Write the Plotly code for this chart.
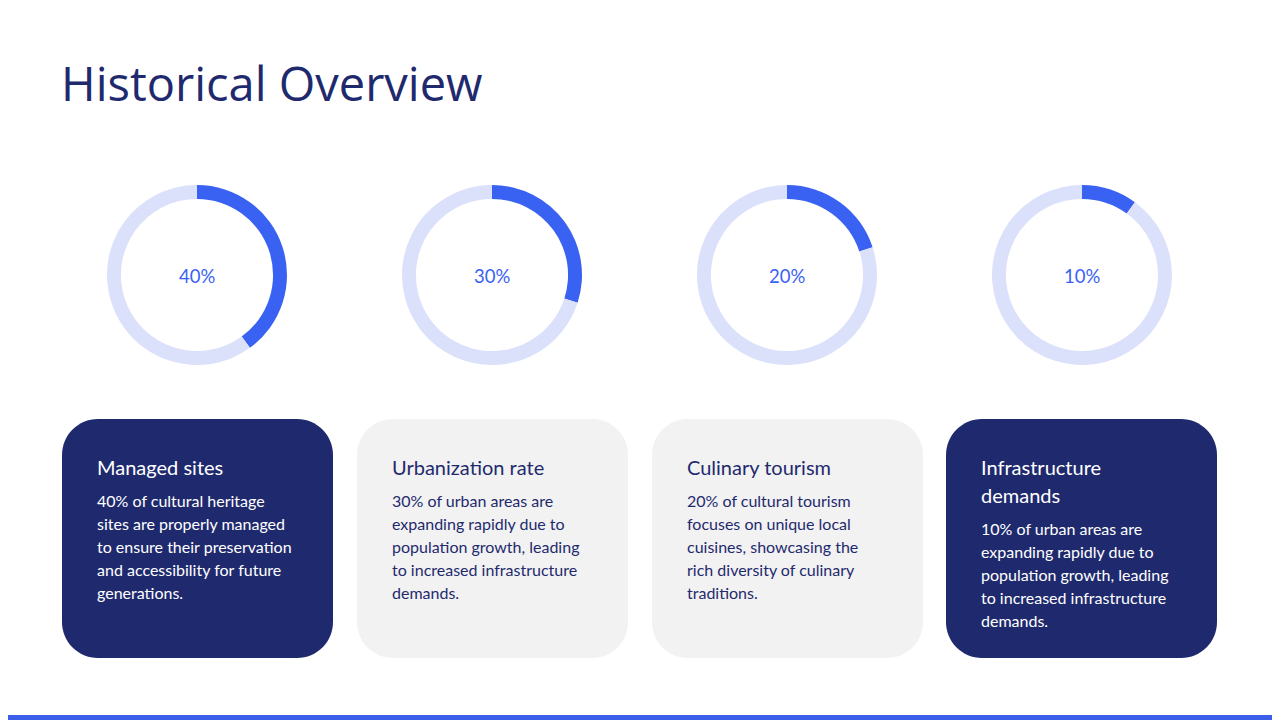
import plotly.graph_objects as go

# ---- data ----
percent_values = [40, 30, 20, 10]
percent_labels = ["40%", "30%", "20%", "10%"]
card_titles = [
    ["Managed sites"],
    ["Urbanization rate"],
    ["Culinary tourism"],
    ["Infrastructure", "demands"],
]
card_bodies = [
    ["40% of cultural heritage", "sites are properly managed", "to ensure their preservation",
     "and accessibility for future", "generations."],
    ["30% of urban areas are", "expanding rapidly due to", "population growth, leading",
     "to increased infrastructure", "demands."],
    ["20% of cultural tourism", "focuses on unique local", "cuisines, showcasing the",
     "rich diversity of culinary", "traditions."],
    ["10% of urban areas are", "expanding rapidly due to", "population growth, leading",
     "to increased infrastructure", "demands."],
]
card_dark = [True, False, False, True]
title_text = "Historical Overview"

# ---- style ----
W, H = 1280, 720
OFF = 8  # page body margin offset (screen coords = plot coords + OFF)
NAVY = "#1F2A6E"
BLUE = "#3A62F2"
TRACK = "#DCE1FB"
LIGHT_CARD = "#F2F2F2"
BODY_FONT = "Lato, 'Open Sans', sans-serif"
TITLE_FONT = "'Open Sans', 'DejaVu Sans', sans-serif"

centers_x = [197, 492, 787, 1082]
donut_cy = 275
R = 90
card_left = [62, 357, 652, 946]
card_w = 271
card_top, card_bot = 419, 658
corner = 36

fig = go.Figure()

for i, v in enumerate(percent_values):
    cx = centers_x[i] - OFF
    cy = donut_cy - OFF
    fig.add_trace(go.Pie(
        values=[v, 100 - v],
        marker=dict(colors=[BLUE, TRACK], line=dict(width=0)),
        hole=0.845,
        sort=False,
        direction="clockwise",
        rotation=0,
        textinfo="none",
        hoverinfo="skip",
        showlegend=False,
        domain=dict(x=[(cx - R) / W, (cx + R) / W],
                    y=[1 - (cy + R) / H, 1 - (cy - R) / H]),
    ))
    fig.add_annotation(x=centers_x[i], y=donut_cy + 1, text=percent_labels[i], showarrow=False,
                       xref="x", yref="y", font=dict(family=BODY_FONT, size=18.5, color=BLUE))


def rounded_rect(x0, y0, x1, y1, r):
    k = r * (1 - 0.5523)
    return (f"M {x0+r},{y0} L {x1-r},{y0} C {x1-k},{y0} {x1},{y0+k} {x1},{y0+r} "
            f"L {x1},{y1-r} C {x1},{y1-k} {x1-k},{y1} {x1-r},{y1} L {x0+r},{y1} "
            f"C {x0+k},{y1} {x0},{y1-k} {x0},{y1-r} L {x0},{y0+r} "
            f"C {x0},{y0+k} {x0+k},{y0} {x0+r},{y0} Z")


for i in range(4):
    x0 = card_left[i]
    x1 = x0 + card_w
    dark = card_dark[i]
    fig.add_shape(type="path", path=rounded_rect(x0, card_top, x1, card_bot, corner),
                  xref="x", yref="y", fillcolor=NAVY if dark else LIGHT_CARD,
                  line=dict(width=0), layer="below")
    tcol = "white" if dark else NAVY
    tx = x0 + 33
    y = 467
    for t in card_titles[i]:
        fig.add_annotation(x=tx, y=y, text=t, showarrow=False, xanchor="left", yanchor="middle",
                           xref="x", yref="y", font=dict(family=BODY_FONT, size=20, color=tcol))
        y += 28
    y += 5
    for line in card_bodies[i]:
        fig.add_annotation(x=tx, y=y, text=line, showarrow=False, xanchor="left", yanchor="middle",
                           xref="x", yref="y", font=dict(family=BODY_FONT, size=16, color=tcol))
        y += 23

# title
fig.add_annotation(x=59, y=83, text=title_text, showarrow=False, xanchor="left", yanchor="middle",
                   xref="x", yref="y", font=dict(family=TITLE_FONT, size=47, color=NAVY))

# bottom bar
fig.add_shape(type="rect", x0=-20, x1=W + 20, y0=715, y1=730, xref="x", yref="y",
              fillcolor="#3B5EE8", line=dict(width=0))

fig.update_layout(
    width=W, height=H,
    margin=dict(l=0, r=0, t=0, b=0),
    paper_bgcolor="white", plot_bgcolor="white",
    xaxis=dict(range=[OFF, W + OFF], visible=False, fixedrange=True),
    yaxis=dict(range=[H + OFF, OFF], visible=False, fixedrange=True),
)

fig.write_html("out.html")
